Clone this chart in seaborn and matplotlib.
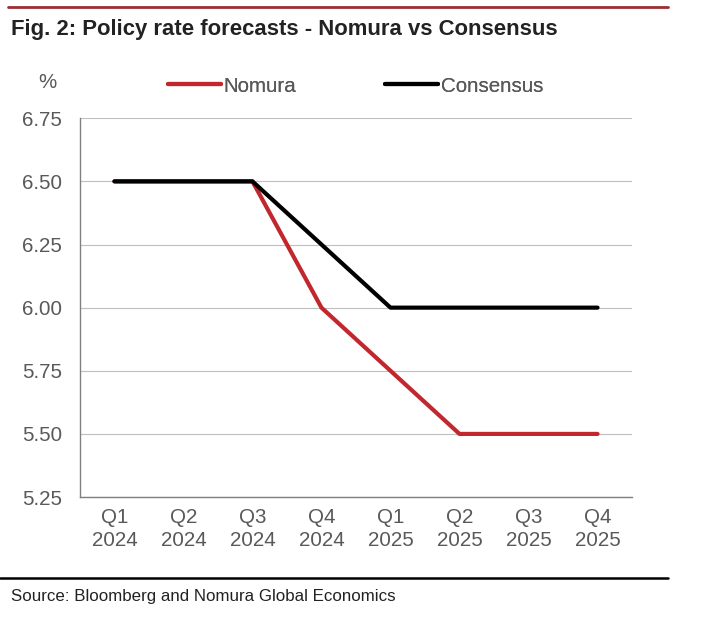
import pandas as pd
import seaborn as sns
from matplotlib import pyplot as plt
from matplotlib.lines import Line2D

quarters = ['Q1\n2024', 'Q2\n2024', 'Q3\n2024', 'Q4\n2024',
            'Q1\n2025', 'Q2\n2025', 'Q3\n2025', 'Q4\n2025']
nomura = [6.50, 6.50, 6.50, 6.00, 5.75, 5.50, 5.50, 5.50]
consensus = [6.50, 6.50, 6.50, 6.25, 6.00, 6.00, 6.00, 6.00]
yticks = [5.25, 5.50, 5.75, 6.00, 6.25, 6.50, 6.75]

df = pd.DataFrame({
    'quarter': quarters * 2,
    'rate': nomura + consensus,
    'series': ['Nomura'] * len(quarters) + ['Consensus'] * len(quarters),
})

sns.set_style('white')
plt.rcParams['font.family'] = ['Liberation Sans', 'DejaVu Sans']

fig = plt.figure(figsize=(7.07, 6.19), dpi=100)
ax = fig.add_axes([0.113, 0.197, 0.781, 0.612])

colors = {'Nomura': '#c1272d', 'Consensus': '#000000'}
sns.lineplot(data=df, x='quarter', y='rate', hue='series', hue_order=['Nomura', 'Consensus'],
             palette=colors, linewidth=3, sort=False, legend=False, ax=ax)

ax.set_xlim(-0.5, 7.5)
ax.set_ylim(5.25, 6.75)
ax.set_yticks(yticks)
ax.set_yticklabels([f'{v:.2f}' for v in yticks])
ax.set_xticks(range(len(quarters)))
ax.set_xticklabels(quarters, linespacing=1.25)
ax.tick_params(axis='both', colors='#595959', labelsize=14.8, length=0)
ax.tick_params(axis='x', pad=8)
ax.tick_params(axis='y', pad=13)
ax.set_xlabel('')
ax.set_ylabel('')
ax.yaxis.grid(True, color='#bfbfbf', linewidth=0.8)
ax.set_axisbelow(True)
for s in ['top', 'right']:
    ax.spines[s].set_visible(False)
for s in ['left', 'bottom']:
    ax.spines[s].set_color('#808080')
    ax.spines[s].set_linewidth(1.0)

# legend: one entry each, placed like the reference
for name, xpos in [('Nomura', 168 / 707), ('Consensus', 385 / 707)]:
    leg = fig.legend([Line2D([], [], color=colors[name], linewidth=3)], [name],
                     loc='center left', bbox_to_anchor=(xpos, 1 - 86 / 619),
                     frameon=False, fontsize=14.8, handlelength=2.6, handletextpad=0.1,
                     borderpad=0, borderaxespad=0, labelcolor='#595959')
    fig.add_artist(leg)

fig.text(47 / 707, 1 - 83 / 619, '%', fontsize=14.8, color='#595959', ha='center', va='center')

# title and rules
fig.add_artist(Line2D([0.011, 0.945], [0.989, 0.989], color='#9b2f32', linewidth=2))
fig.text(0.016, 0.953, 'Fig. 2: Policy rate forecasts - Nomura vs Consensus',
         fontsize=15.9, fontweight='bold', color='#222222', va='center', ha='left')
fig.add_artist(Line2D([0.0, 0.945], [0.066, 0.066], color='black', linewidth=1.8))
fig.text(0.016, 0.037, 'Source: Bloomberg and Nomura Global Economics',
         fontsize=12.2, color='#222222', va='center', ha='left')

fig.savefig('out.png', dpi=100)
plt.close(fig)
